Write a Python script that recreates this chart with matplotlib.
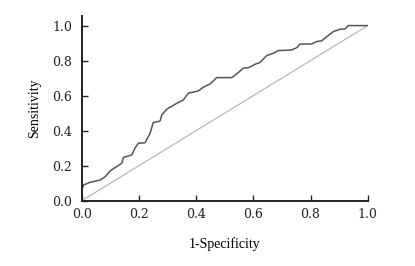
import matplotlib
matplotlib.use('Agg')
import matplotlib.pyplot as plt

# ROC curve points
fpr = [0.0, 0.0, 0.006, 0.029, 0.064, 0.082, 0.099, 0.14, 0.146, 0.175, 0.186,
       0.198, 0.221, 0.239, 0.25, 0.274, 0.28, 0.297, 0.332, 0.355, 0.373,
       0.408, 0.425, 0.449, 0.472, 0.524, 0.542, 0.565, 0.583, 0.606, 0.623,
       0.647, 0.67, 0.687, 0.734, 0.752, 0.763, 0.804, 0.822, 0.839, 0.857,
       0.88, 0.903, 0.921, 0.932, 1.0]
tpr = [0.0, 0.06, 0.09, 0.105, 0.118, 0.137, 0.17, 0.214, 0.248, 0.261, 0.30,
       0.328, 0.331, 0.385, 0.446, 0.455, 0.49, 0.522, 0.556, 0.575, 0.614,
       0.627, 0.648, 0.667, 0.703, 0.703, 0.724, 0.757, 0.76, 0.779, 0.789,
       0.829, 0.842, 0.857, 0.861, 0.874, 0.894, 0.895, 0.909, 0.913, 0.937,
       0.966, 0.979, 0.981, 1.0, 1.0]
ticks = [0.0, 0.2, 0.4, 0.6, 0.8, 1.0]
tick_labels = ['0.0', '0.2', '0.4', '0.6', '0.8', '1.0']

plt.rcParams['font.family'] = ['Liberation Serif', 'DejaVu Serif']

fig = plt.figure(figsize=(4.15, 2.66), dpi=100)
ax = fig.add_axes([0.197, 0.2455, 0.689, 0.6945])

ax.plot([0, 1], [0, 1], color='#b8b8b8', lw=0.9)
ax.plot(fpr, tpr, color='#555555', lw=1.1)

ax.set_xlim(0, 1.0)
ax.set_ylim(0, 1.055)
ax.set_xticks(ticks)
ax.set_xticklabels(tick_labels, family='DejaVu Serif')
ax.set_yticks(ticks)
ax.set_yticklabels(tick_labels, family='DejaVu Serif')
ax.tick_params(direction='in', length=4, width=1, labelsize=9, colors='#222222')
ax.tick_params(axis='x', pad=5)
ax.tick_params(axis='y', pad=7)
for s in ['top', 'right']:
    ax.spines[s].set_visible(False)
for s in ['left', 'bottom']:
    ax.spines[s].set_linewidth(1.4)
    ax.spines[s].set_color('#222222')

ax.set_xlabel('1-Specificity', fontsize=10, labelpad=12)
ax.set_ylabel('Sensitivity', fontsize=10, labelpad=8)

plt.savefig('out.png', dpi=100)
